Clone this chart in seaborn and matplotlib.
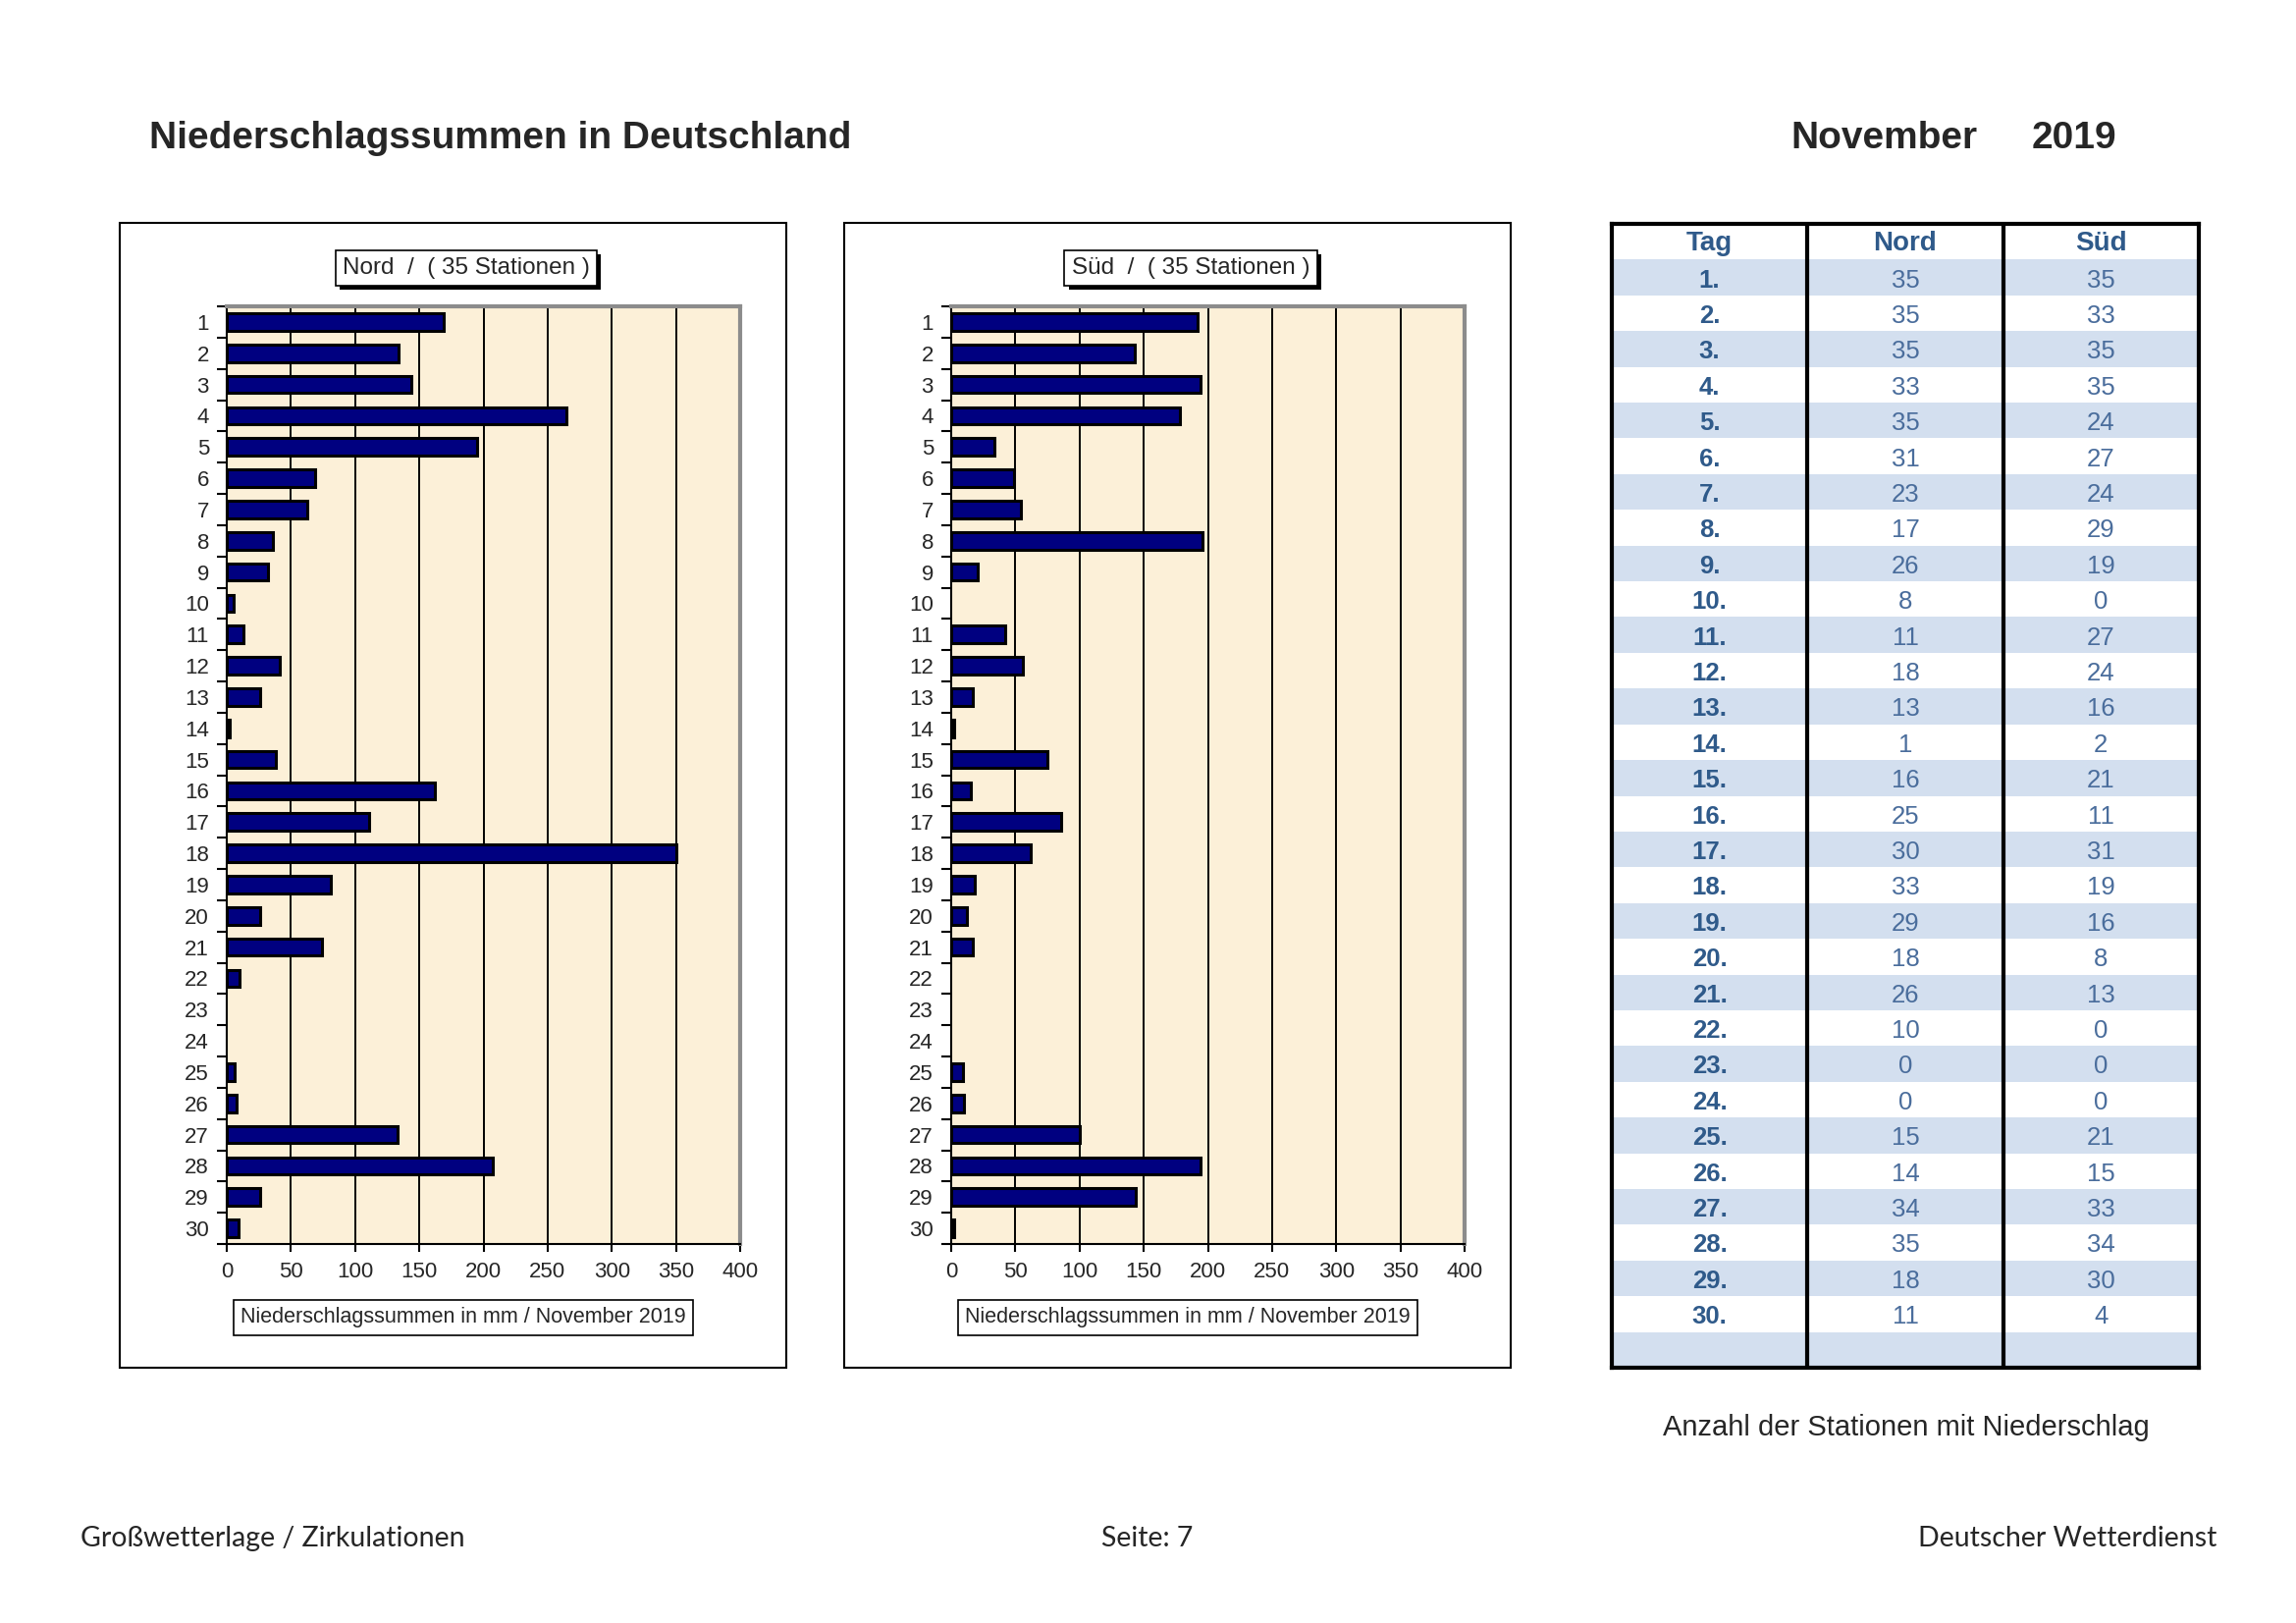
import numpy as np
import pandas as pd
import matplotlib
matplotlib.use('Agg')
import matplotlib.pyplot as plt
import matplotlib.patheffects as pe
from matplotlib.patches import Rectangle
import seaborn as sns

# Daten November 2019
tage = list(range(1, 31))
nord_mm = [169, 134, 144, 265, 195, 69, 63, 36, 32, 5,
           13, 41, 26, 2, 38, 162, 111, 350, 81, 26,
           74, 10, 0, 0, 6, 8, 133, 207, 26, 9]
sued_mm = [192, 143, 194, 178, 34, 49, 54, 196, 21, 0,
           42, 56, 17, 2, 75, 15, 86, 62, 18, 12,
           17, 0, 0, 0, 9, 10, 100, 194, 144, 2]
nord_stat = [35, 35, 35, 33, 35, 31, 23, 17, 26, 8,
             11, 18, 13, 1, 16, 25, 30, 33, 29, 18,
             26, 10, 0, 0, 15, 14, 34, 35, 18, 11]
sued_stat = [35, 33, 35, 35, 24, 27, 24, 29, 19, 0,
             27, 24, 16, 2, 21, 11, 31, 19, 16, 8,
             13, 0, 0, 0, 21, 15, 33, 34, 30, 4]
x_ticks = [0, 50, 100, 150, 200, 250, 300, 350, 400]
tabelle_kopf = ['Tag', 'Nord', 'Süd']

sns.set_theme(style='white')
plt.rcParams['font.family'] = ['Liberation Sans', 'DejaVu Sans']

W, H = 2339, 1653
fig = plt.figure(figsize=(W / 100, H / 100), dpi=100)


def box(x0, y0, x1, y1):
    # pixel box (from top-left) -> figure fraction
    return [x0 / W, 1 - y1 / H, (x1 - x0) / W, (y1 - y0) / H]


def fxy(x, y):
    return x / W, 1 - y / H


df = pd.DataFrame({'Tag': [str(t) for t in tage], 'Nord': nord_mm, 'Süd': sued_mm})


def chart(x_off, region, titel):
    # panel frame
    fig.patches.append(Rectangle(fxy(122 + x_off, 1393), 679 / W, 1166 / H,
                                 transform=fig.transFigure, fill=False,
                                 edgecolor='black', lw=1.5))
    ax = fig.add_axes(box(231 + x_off, 312, 754 + x_off, 1267))
    ax.set_facecolor('#fcf0d8')
    sns.barplot(data=df, x=region, y='Tag', order=df['Tag'], orient='h',
                color='#000080', edgecolor='black', linewidth=2.2,
                width=0.55, saturation=1, ax=ax)
    # no outline for days without precipitation
    for p in ax.patches:
        if p.get_width() == 0:
            p.set_edgecolor('none')
    ax.set_xlim(0, 400)
    ax.set_ylim(29.5, -0.5)
    ax.set_xticks(x_ticks)
    ax.set_xticklabels([str(v) for v in x_ticks], fontsize=16)
    ax.set_yticks(range(30))
    ax.set_yticklabels(df['Tag'], fontsize=16)
    ax.set_yticks(np.arange(-0.5, 30, 1), minor=True)
    ax.tick_params(axis='y', which='major', length=0, pad=13)
    ax.tick_params(axis='y', which='minor', length=7, width=1.5,
                   direction='out', color='black', left=True)
    ax.tick_params(axis='x', which='major', length=6, width=1.5,
                   direction='out', color='black', bottom=True, pad=7)
    ax.set_xlabel('')
    ax.set_ylabel('')
    for v in x_ticks[1:-1]:
        ax.axvline(v, color='black', lw=1.4, zorder=0.5)
    ax.spines['left'].set_color('black')
    ax.spines['bottom'].set_color('black')
    ax.spines['left'].set_linewidth(1.5)
    ax.spines['bottom'].set_linewidth(1.5)
    ax.spines['top'].set_color('#8c8c8c')
    ax.spines['right'].set_color('#8c8c8c')
    ax.spines['top'].set_linewidth(3)
    ax.spines['right'].set_linewidth(3)
    for s in ax.spines.values():
        s.set_visible(True)

    t = fig.text(*fxy(475 + x_off, 273), titel, ha='center', va='center', fontsize=17.5,
                 bbox=dict(boxstyle='square,pad=0.3', facecolor='white',
                           edgecolor='black', lw=1.2))
    t.get_bbox_patch().set_path_effects(
        [pe.SimplePatchShadow(offset=(3, -3), shadow_rgbFace='black', alpha=1),
         pe.Normal()])
    fig.text(*fxy(472 + x_off, 1342), 'Niederschlagssummen in mm / November 2019',
             ha='center', va='center', fontsize=15.5,
             bbox=dict(boxstyle='square,pad=0.35', facecolor='white',
                       edgecolor='black', lw=1.2))


chart(0, 'Nord', 'Nord  /  ( 35 Stationen )')
chart(738, 'Süd', 'Süd  /  ( 35 Stationen )')

# Kopfzeile
fig.text(*fxy(152, 151), 'Niederschlagssummen in Deutschland', fontsize=28,
         fontweight='bold', va='baseline', ha='left')
fig.text(*fxy(1824, 151), 'November', fontsize=28, fontweight='bold',
         va='baseline', ha='left')
fig.text(*fxy(2070, 151), '2019', fontsize=28, fontweight='bold',
         va='baseline', ha='left')

# Tabelle: Anzahl der Stationen
tab = fig.add_axes(box(1642, 228, 2240, 1393))
tab.set_xlim(0, 3)
tab.set_ylim(32, 0)
tab.set_xticks([])
tab.set_yticks([])
n_rows = len(tage) + 2
for i in range(1, n_rows, 2):
    tab.axhspan(i, i + 1, color='#d3dfef', lw=0)
tab.axvline(1, color='black', lw=3)
tab.axvline(2, color='black', lw=3)
for s in tab.spines.values():
    s.set_visible(True)
    s.set_color('black')
    s.set_linewidth(3)
for j, k in enumerate(tabelle_kopf):
    tab.text(j + 0.5, 0.55, k, ha='center', va='center', fontsize=20,
             fontweight='bold', color='#2f5a8a')
for i, t in enumerate(tage):
    y = i + 1.58
    tab.text(0.5, y, f'{t}.', ha='center', va='center', fontsize=18.5,
             fontweight='bold', color='#2f5a8a')
    tab.text(1.5, y, str(nord_stat[i]), ha='center', va='center', fontsize=18.5,
             color='#4a6d9c')
    tab.text(2.5, y, str(sued_stat[i]), ha='center', va='center', fontsize=18.5,
             color='#4a6d9c')

fig.text(*fxy(1942, 1454), 'Anzahl der Stationen mit Niederschlag', fontsize=21,
         ha='center', va='center')

# Fusszeile
fig.text(*fxy(82, 1567), 'Großwetterlage / Zirkulationen', fontsize=20.5,
         ha='left', va='center', family=['Lato', 'DejaVu Sans'])
fig.text(*fxy(1169, 1567), 'Seite: 7', fontsize=20.5,
         ha='center', va='center', family=['Lato', 'DejaVu Sans'])
fig.text(*fxy(2258, 1567), 'Deutscher Wetterdienst', fontsize=20.5,
         ha='right', va='center', family=['Lato', 'DejaVu Sans'])

fig.savefig('out.png', dpi=100, facecolor='white')
